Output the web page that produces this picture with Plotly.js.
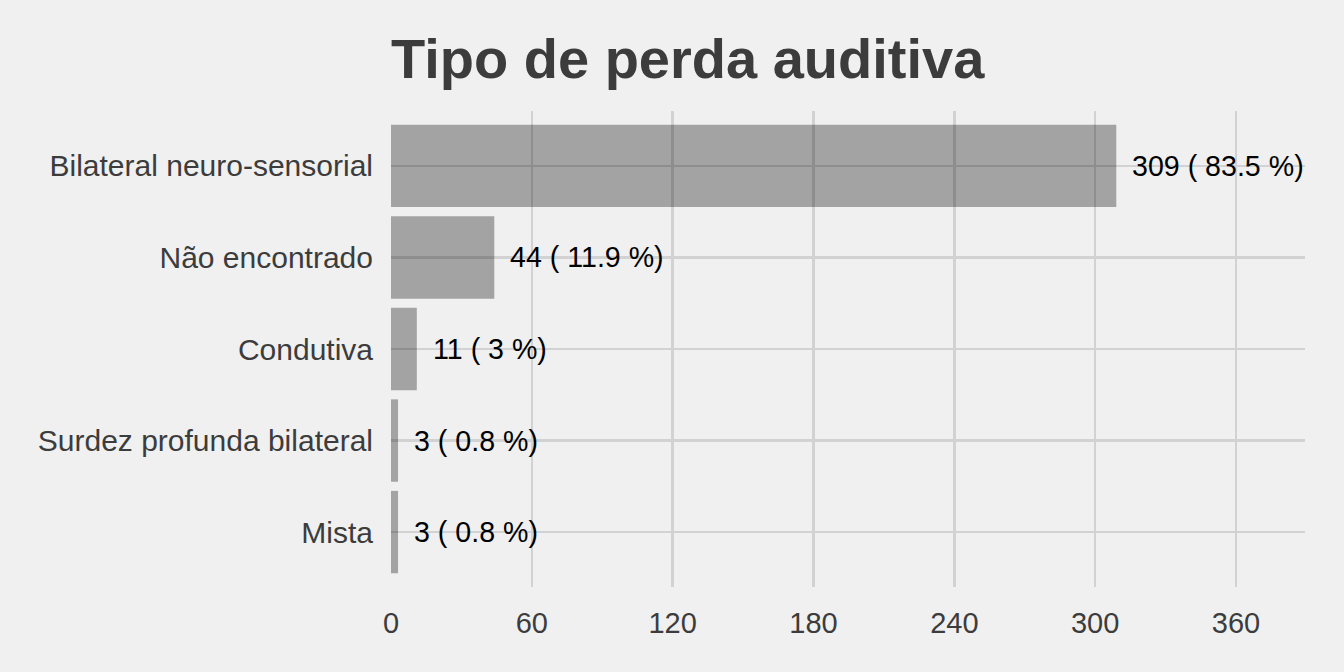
<!DOCTYPE html>
<html>
<head>
<meta charset="utf-8">
<script src="https://cdn.plot.ly/plotly-3.0.1.min.js"></script>
<style>html,body{margin:0;padding:0;background:#f0f0f0;}</style>
</head>
<body>
<div id="chart" style="width:1344px;height:672px;"></div>
<script>
const categories = ["Mista", "Surdez profunda bilateral", "Condutiva", "Não encontrado", "Bilateral neuro-sensorial"];
const counts = [3, 3, 11, 44, 309];
const percents = ["0.8", "0.8", "3", "11.9", "83.5"];
const xTicks = [0, 60, 120, 180, 240, 300, 360];

const labels = counts.map((c, i) => c + " ( " + percents[i] + " %)");

const trace = {
  type: "bar",
  orientation: "h",
  x: counts,
  y: categories,
  width: 0.9,
  marker: {color: "rgba(0,0,0,0.32)", line: {width: 0}},
  hoverinfo: "none"
};

const annotations = counts.map((c, i) => ({
  x: c, y: categories[i], xref: "x", yref: "y",
  text: labels[i], showarrow: false, xanchor: "left", yanchor: "middle",
  xshift: 14, font: {family: "Liberation Sans, Arial, sans-serif", size: 28.6, color: "#000000"}
}));

const layout = {
  width: 1344, height: 672,
  paper_bgcolor: "#f0f0f0", plot_bgcolor: "#f0f0f0",
  margin: {l: 391, r: 39, t: 111, b: 85},
  showlegend: false,
  title: {
    text: "<b>Tipo de perda auditiva</b>",
    font: {family: "Liberation Sans, Arial, sans-serif", size: 56, color: "#3c3c3c"},
    xref: "paper", x: 0, xanchor: "left",
    yref: "container", y: 1 - 58/672, yanchor: "middle"
  },
  xaxis: {
    range: [0, 389.4],
    tickvals: xTicks,
    ticktext: xTicks.map(String),
    showgrid: true, gridcolor: "#d2d2d2", gridwidth: 2.5,
    zeroline: false, showline: false,
    ticks: "outside", ticklen: 10, tickcolor: "rgba(0,0,0,0)",
    tickfont: {family: "Liberation Sans, Arial, sans-serif", size: 29, color: "#3c3c3c"}
  },
  yaxis: {
    type: "category",
    categoryorder: "array", categoryarray: categories,
    range: [-0.6, 4.6],
    showgrid: true, gridcolor: "#d2d2d2", gridwidth: 2.5,
    zeroline: false, showline: false,
    ticks: "outside", ticklen: 11, tickcolor: "rgba(0,0,0,0)",
    tickfont: {family: "Liberation Sans, Arial, sans-serif", size: 30, color: "#3c3c3c"}
  },
  annotations: annotations
};

Plotly.newPlot("chart", [trace], layout, {displayModeBar: false, staticPlot: true});
</script>
</body>
</html>
